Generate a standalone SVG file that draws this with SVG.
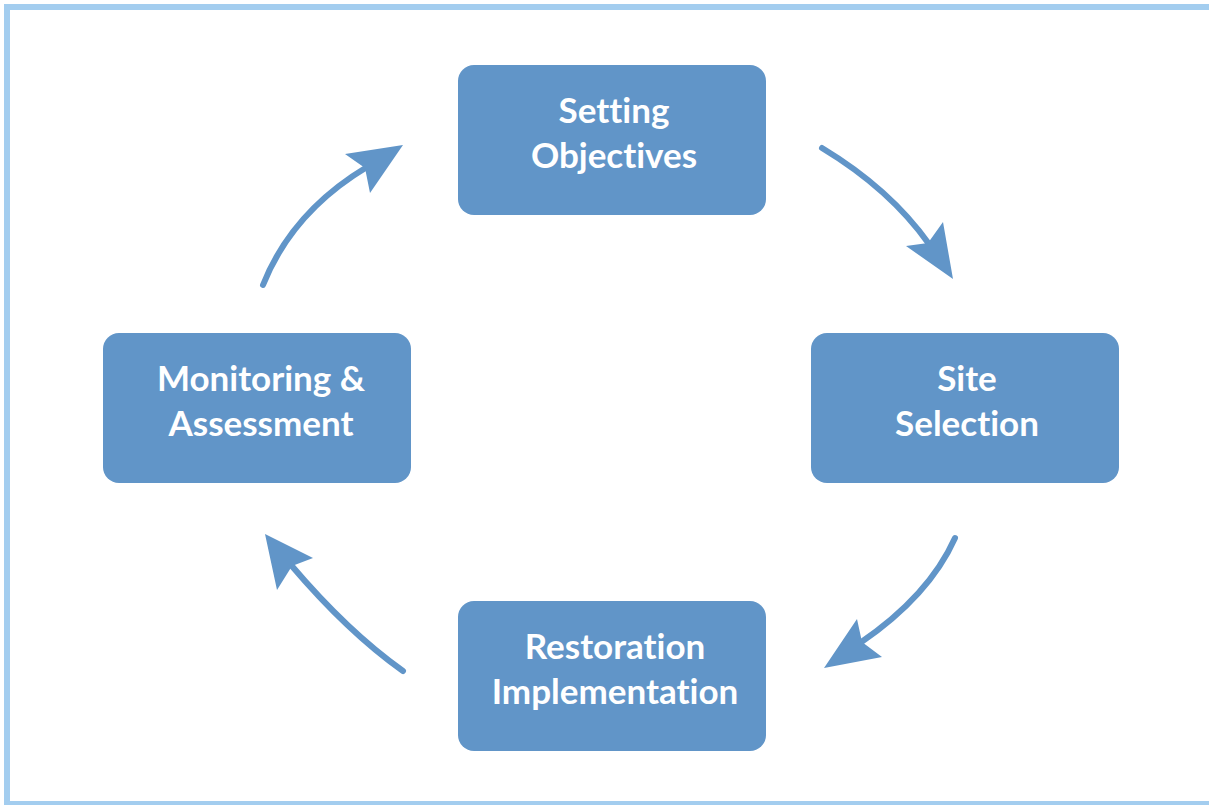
<svg xmlns="http://www.w3.org/2000/svg" width="1209" height="805" viewBox="0 0 1209 805">
<style>
.box{fill:#6195c8}
.lbl{fill:#ffffff;font-family:Lato,"Open Sans","Liberation Sans",sans-serif;font-weight:700;font-size:35px;text-anchor:middle;font-variant-ligatures:none}
.con{fill:none;stroke:#6195c8;stroke-width:6;stroke-linecap:round}
.head{fill:#6195c8}
</style>
<rect x="0" y="0" width="1209" height="805" fill="#ffffff"/>
<rect x="7" y="7" width="1212" height="797" fill="none" stroke="#a3cdef" stroke-width="6"/>
<g id="n1"><rect class="box" x="458" y="65" width="308" height="150" rx="16"/><text class="lbl" x="614" y="123">Setting</text><text class="lbl" x="614" y="168">Objectives</text></g>
<g id="n2"><rect class="box" x="811" y="333" width="308" height="150" rx="16"/><text class="lbl" x="967" y="391">Site</text><text class="lbl" x="967" y="436">Selection</text></g>
<g id="n3"><rect class="box" x="458" y="601" width="308" height="150" rx="16"/><text class="lbl" x="615" y="659">Restoration</text><text class="lbl" x="615" y="704">Implementation</text></g>
<g id="n4"><rect class="box" x="103" y="333" width="308" height="150" rx="16"/><text class="lbl" x="261" y="391">Monitoring &amp;</text><text class="lbl" x="261" y="436">Assessment</text></g>
<g id="connectors">
<path class="con" d="M263,285 Q292,212 367,167"/>
<polygon class="head" points="403,145 370,193 365,168 345,154"/>
<path class="con" d="M822,148 Q890,189 929,244"/>
<polygon class="head" points="953,279 906,246 928,243 943,222"/>
<path class="con" d="M955,538 Q929,596 860,643"/>
<polygon class="head" points="824,668 857,619 862,642 882,657"/>
<path class="con" d="M403,671 Q348,632 291,565"/>
<polygon class="head" points="265,534 313,558 292,566 277,590"/>
</g>
</svg>
